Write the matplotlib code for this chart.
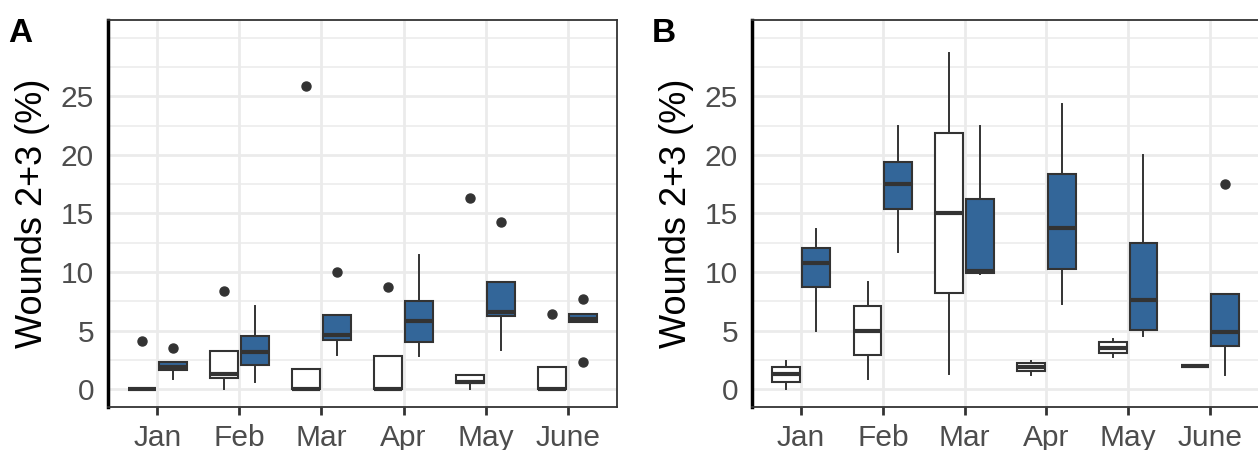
import matplotlib
matplotlib.use("Agg")
import matplotlib.pyplot as plt
from matplotlib.ticker import MultipleLocator

plt.rcParams['font.family'] = ['Liberation Sans', 'DejaVu Sans']

months = ["Jan", "Feb", "Mar", "Apr", "May", "June"]
yticks = [0, 5, 10, 15, 20, 25]

# Panel A, white group: (whislo, q1, med, q3, whishi, outliers)
a_white = [
    (0.0, 0.0, 0.0, 0.0, 0.0, [4.15]),
    (0.06, 0.99, 1.3, 3.3, 3.3, [8.36]),
    (0.0, 0.0, 0.0, 1.75, 1.75, [25.85]),
    (0.0, 0.0, 0.0, 2.83, 2.83, [8.76]),
    (0.06, 0.54, 0.62, 1.27, 1.27, [16.3]),
    (0.0, 0.0, 0.0, 1.9, 1.9, [6.4]),
]
a_blue = [
    (0.85, 1.67, 1.9, 2.3, 2.3, [3.53]),
    (0.63, 2.09, 3.17, 4.58, 7.07, []),
    (2.94, 4.21, 4.6, 6.33, 6.33, [10.03]),
    (2.88, 4.01, 5.85, 7.54, 11.5, []),
    (3.39, 6.22, 6.56, 9.19, 9.19, [14.27]),
    (5.76, 5.76, 6.0, 6.4, 6.4, [7.74, 2.37]),
]
b_white = [
    (0.06, 0.63, 1.33, 1.9, 2.46, []),
    (0.9, 2.94, 5.0, 7.12, 9.15, []),
    (1.33, 8.19, 15.03, 21.86, 28.7, []),
    (1.27, 1.53, 1.9, 2.24, 2.46, []),
    (2.74, 3.11, 3.56, 4.01, 4.3, []),
    (2.01, 2.01, 2.01, 2.01, 2.01, []),
]
b_blue = [
    (4.95, 8.76, 10.8, 12.07, 13.7, []),
    (11.73, 15.4, 17.5, 19.36, 22.46, []),
    (9.8, 9.89, 10.08, 16.25, 22.46, []),
    (7.26, 10.23, 13.76, 18.34, 24.36, []),
    (4.58, 5.06, 7.63, 12.49, 20.03, []),
    (1.27, 3.73, 4.86, 8.11, 8.11, [17.5]),
]

BLUE = "#336699"
EDGE = "#333333"
W, H = 1258, 450
fig = plt.figure(figsize=(W / 100, H / 100), dpi=100)


def to_stats(rows):
    return [dict(whislo=r[0], q1=r[1], med=r[2], q3=r[3], whishi=r[4], fliers=r[5]) for r in rows]


def draw(ax, white, blue):
    xs = list(range(1, len(months) + 1))
    for rows, off, fc in [(white, -0.1875, "white"), (blue, 0.1875, BLUE)]:
        ax.bxp(to_stats(rows), positions=[x + off for x in xs], widths=0.34,
               patch_artist=True, showcaps=False,
               boxprops=dict(facecolor=fc, edgecolor=EDGE, linewidth=1.5),
               medianprops=dict(color=EDGE, linewidth=3.0, solid_capstyle='butt'),
               whiskerprops=dict(color=EDGE, linewidth=1.4),
               flierprops=dict(marker='o', markerfacecolor=EDGE, markeredgecolor=EDGE,
                               markersize=6.5),
               zorder=3)
    ax.set_xlim(0.4, 6.6)
    ax.set_ylim(-1.5, 31.5)
    ax.set_xticks(xs)
    ax.set_xticklabels(months)
    ax.set_yticks(yticks)
    ax.set_yticklabels([str(v) for v in yticks])
    ax.yaxis.set_minor_locator(MultipleLocator(2.5))
    ax.grid(True, which='major', color='#EBEBEB', linewidth=2.0, zorder=0)
    ax.grid(True, which='minor', axis='y', color='#EBEBEB', linewidth=1.1, zorder=0)
    ax.set_axisbelow(True)
    ax.tick_params(axis='x', which='major', length=6, width=2, color=EDGE,
                   labelsize=21.5, labelcolor='#4D4D4D', pad=6)
    ax.tick_params(axis='y', which='both', length=0, labelsize=21.5, labelcolor='#4D4D4D', pad=10)
    ax.tick_params(axis='x', which='minor', length=0)
    for s in ['top', 'right', 'bottom']:
        ax.spines[s].set_color(EDGE)
        ax.spines[s].set_linewidth(1.3)
    ax.spines['left'].set_color('black')
    ax.spines['left'].set_linewidth(2.5)
    ax.set_ylabel("Wounds 2+3 (%)", fontsize=26, color='black', labelpad=8)


axA = fig.add_axes([108 / W, 43 / H, 509 / W, 387 / H])
axB = fig.add_axes([752 / W, 43 / H, 507 / W, 387 / H])
draw(axA, a_white, a_blue)
draw(axB, b_white, b_blue)
fig.text(8 / W, 1 - 42 / H, "A", fontsize=24, fontweight='bold')
fig.text(652 / W, 1 - 42 / H, "B", fontsize=24, fontweight='bold')

fig.savefig("out.png", dpi=100)
